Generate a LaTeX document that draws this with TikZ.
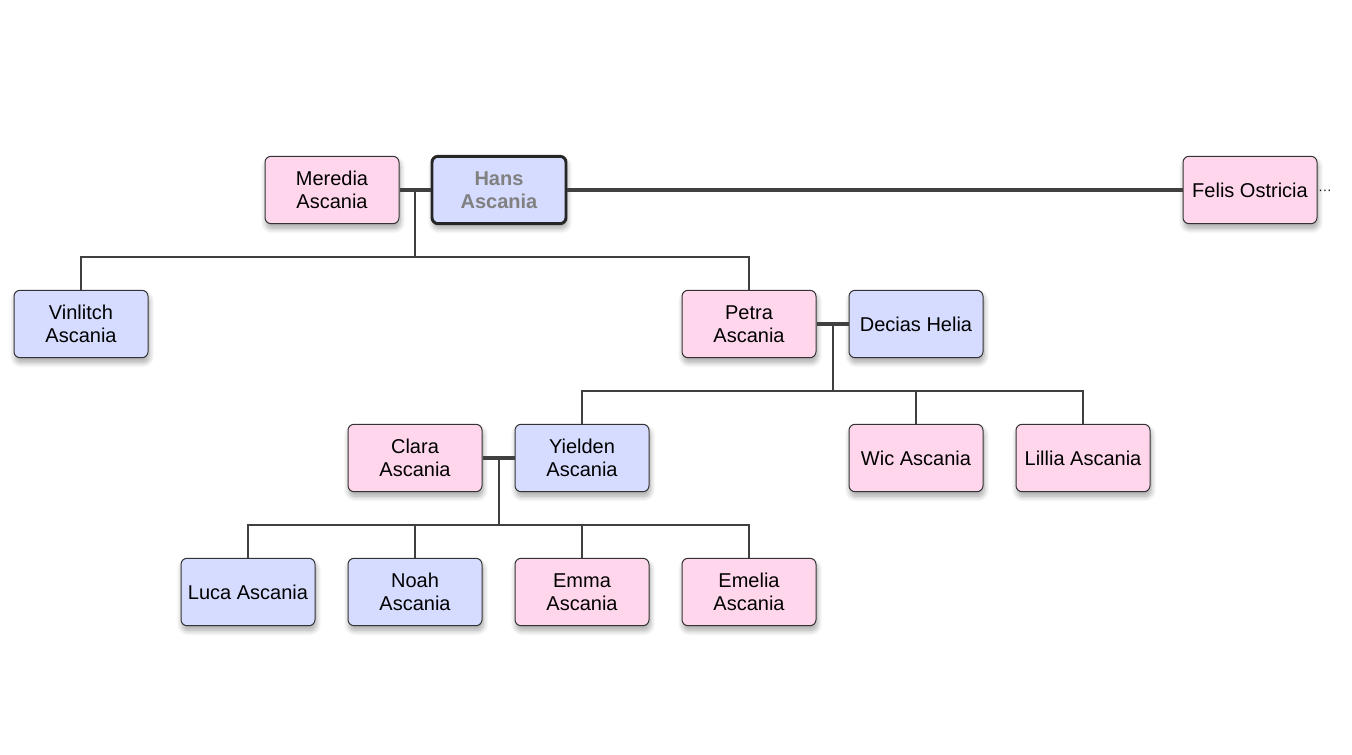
\documentclass[tikz,border=0pt]{standalone}
\usepackage{fontspec}
\setmainfont{Liberation Sans}
\usetikzlibrary{shadows.blur}

\definecolor{pinkfill}{HTML}{FFD6EC}
\definecolor{bluefill}{HTML}{D6DCFF}
\definecolor{linegray}{HTML}{404040}

\begin{document}
\begin{tikzpicture}[x=0.75pt, y=-0.75pt,
    person/.style={draw=black!80, line width=0.75pt, rounded corners=4.5pt,
        minimum width=100.5pt, minimum height=50.5pt, align=center,
        font=\fontsize{15}{17.3}\selectfont,
        blur shadow={shadow xshift=0.8pt, shadow yshift=-3.5pt, shadow opacity=35,
            shadow blur radius=4pt, shadow blur steps=8}},
    female/.style={person, fill=pinkfill},
    male/.style={person, fill=bluefill},
    root/.style={male, line width=2.2pt, draw=black!85, text=black!50,
        font=\fontsize{15}{17.3}\selectfont\bfseries},
    couple/.style={draw=linegray, line width=3pt},
    kin/.style={draw=linegray, line width=1.5pt}]
\useasboundingbox (0,0) rectangle (1352,755);

% generation 1
\node[female] (meredia) at (332,190) {Meredia\\Ascania};
\node[root] (hans) at (499,190) {Hans\\Ascania};
\node[female] (felis) at (1250,190) {Felis Ostricia};
\node[font=\fontsize{10}{10}\selectfont] (felisdots) at (1325,192) {···};

% generation 2
\node[male] (vinlitch) at (81,324) {Vinlitch\\Ascania};
\node[female] (petra) at (749,324) {Petra\\Ascania};
\node[male] (decias) at (916,324) {Decias Helia};

% generation 3
\node[female] (clara) at (415,458) {Clara\\Ascania};
\node[male] (yielden) at (582,458) {Yielden\\Ascania};
\node[female] (wic) at (916,458) {Wic Ascania};
\node[female] (lillia) at (1083,458) {Lillia Ascania};

% generation 4
\node[male] (luca) at (248,592) {Luca Ascania};
\node[male] (noah) at (415,592) {Noah\\Ascania};
\node[female] (emma) at (582,592) {Emma\\Ascania};
\node[female] (emelia) at (749,592) {Emelia\\Ascania};

% couples
\draw[couple] (meredia.east) -- (hans.west);
\draw[couple] (hans.east) -- (felis.west);
\draw[couple] (petra.east) -- (decias.west);
\draw[couple] (clara.east) -- (yielden.west);

% children
\coordinate (m1) at (415,190);
\coordinate (b1) at (415,257);
\draw[kin] (m1) -- (b1);
\draw[kin] (b1) -| (vinlitch.north);
\draw[kin] (b1) -| (petra.north);

\coordinate (m2) at (833,324);
\coordinate (b2) at (833,391);
\draw[kin] (m2) -- (b2);
\draw[kin] (b2) -| (yielden.north);
\draw[kin] (b2) -| (wic.north);
\draw[kin] (b2) -| (lillia.north);

\coordinate (m3) at (499,458);
\coordinate (b3) at (499,525);
\draw[kin] (m3) -- (b3);
\draw[kin] (b3) -| (luca.north);
\draw[kin] (b3) -| (noah.north);
\draw[kin] (b3) -| (emma.north);
\draw[kin] (b3) -| (emelia.north);
\end{tikzpicture}
\end{document}
